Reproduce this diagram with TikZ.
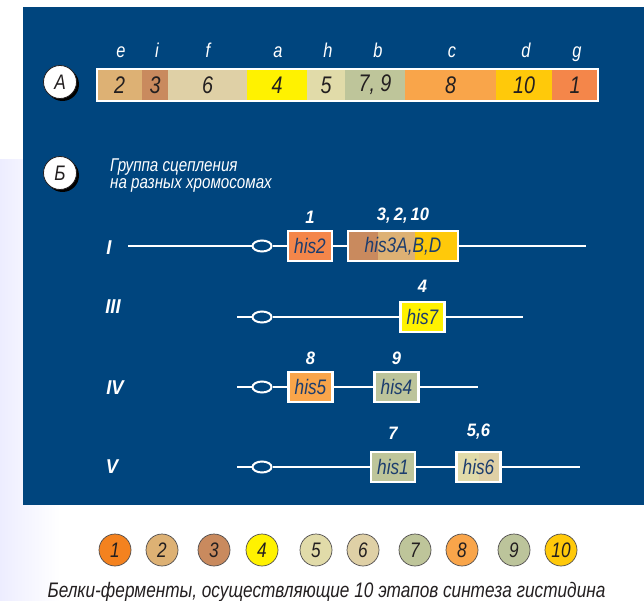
\documentclass[tikz,border=0pt]{standalone}
\usepackage{fontspec}
\setmainfont{Liberation Sans}
\newfontfamily\narrow[FakeStretch=0.82]{Liberation Sans}
\newfontfamily\wider[FakeStretch=0.92]{Liberation Sans}
\usetikzlibrary{shapes.geometric,shadows}

\definecolor{panel}{HTML}{00457E}
\definecolor{ink}{HTML}{231F20}
\definecolor{hisblue}{HTML}{1C3D6E}
\definecolor{enzA}{HTML}{F4864A}
\definecolor{enzAdot}{HTML}{F4821F}
\definecolor{enzB}{HTML}{DDB174}
\definecolor{enzC}{HTML}{C98A5E}
\definecolor{enzD}{HTML}{FFF200}
\definecolor{enzE}{HTML}{E1DBA9}
\definecolor{enzF}{HTML}{DFD0A6}
\definecolor{enzG}{HTML}{BEC59A}
\definecolor{enzH}{HTML}{F9A54A}
\definecolor{enzI}{HTML}{BCC49B}
\definecolor{enzJ}{HTML}{FFC90A}

\begin{document}
\begin{tikzpicture}[
        x=1pt, y=-1pt,
        seg/.style={minimum height=32pt, inner sep=0pt, text=ink,
            font=\narrow\itshape\fontsize{24}{24}\selectfont},
        letter/.style={anchor=base, text=white,
            font=\narrow\itshape\fontsize{20}{20}\selectfont},
        badge/.style={circle, draw=ink, line width=0.8pt, fill=white,
            minimum size=33pt, inner sep=0pt, text=ink,
            drop shadow={shadow xshift=2.5pt, shadow yshift=-2.5pt,
                fill=black, opacity=1},
            font=\narrow\itshape\fontsize{21}{21}\selectfont},
        gene/.style={draw=white, line width=2.4pt, minimum width=44pt,
            minimum height=30pt, inner sep=0pt, text=hisblue,
            font=\narrow\itshape\fontsize{21}{21}\selectfont},
        num/.style={text=white, inner sep=0pt,
            font=\wider\bfseries\itshape\fontsize{18}{18}\selectfont},
        roman/.style={text=white,
            font=\wider\bfseries\itshape\fontsize{20}{20}\selectfont},
        chrom/.style={white, line width=2.2pt},
        centro/.style={ellipse, draw=white, line width=2pt, fill=panel,
            minimum width=19pt, minimum height=11pt, inner sep=0pt},
        enzyme/.style={circle, draw=ink!80, line width=0.7pt,
            minimum size=32pt, inner sep=0pt, text=ink,
            font=\narrow\itshape\fontsize{21}{21}\selectfont},
    ]

    \useasboundingbox (0,0) rectangle (644,601);
    \fill[left color=blue!7!white, right color=white] (0,160) rectangle (60,601);
    \fill[panel] (23,7) rectangle (644,505);

    % A: enzyme bar
    \node[seg, fill=enzB, minimum width=45pt] (seg-e) at (119.5,85) {2};
    \node[seg, fill=enzC, minimum width=26pt] (seg-i) at (155,85) {3};
    \node[seg, fill=enzF, minimum width=79pt] (seg-f) at (207.5,85) {6};
    \node[seg, fill=enzD, minimum width=60pt] (seg-a) at (277,85) {4};
    \node[seg, fill=enzE, minimum width=38pt] (seg-h) at (326,85) {5};
    \node[seg, fill=enzG, minimum width=60pt] (seg-b) at (375,85) {7, 9};
    \node[seg, fill=enzH, minimum width=91pt] (seg-c) at (450.5,85) {8};
    \node[seg, fill=enzJ, minimum width=56pt] (seg-d) at (524,85) {10};
    \node[seg, fill=enzA, minimum width=46pt] (seg-g) at (575,85) {1};
    \node[draw=white, line width=2pt, minimum width=501pt, minimum height=32pt,
        inner sep=0pt] (barA) at (347.5,85) {};

    \node[letter] (lab-e) at (121,58) {e};
    \node[letter] (lab-i) at (157,58) {i};
    \node[letter] (lab-f) at (208,58) {f};
    \node[letter] (lab-a) at (278,58) {a};
    \node[letter] (lab-h) at (328,58) {h};
    \node[letter] (lab-b) at (378,58) {b};
    \node[letter] (lab-c) at (452,58) {c};
    \node[letter] (lab-d) at (526,58) {d};
    \node[letter] (lab-g) at (577,58) {g};

    \node[badge] (badgeA) at (60,82) {А};
    \node[badge] (badgeB) at (60,173) {Б};

    % Б: linkage groups
    \node[anchor=north west, align=left, inner sep=0pt, text=white,
        font=\narrow\itshape\fontsize{18.5}{17}\selectfont]
        (groupnote) at (110,159) {Группа сцепления\\на разных хромосомах};

    \node[roman] (chrI) at (109,248) {I};
    \coordinate (I-start) at (128,246);
    \coordinate (I-end) at (586,246);
    \node[centro] (I-cen) at (262,246) {};
    \node[gene, fill=enzA, label={[num, label distance=6pt]above:1}]
        (his2) at (310,246) {his2};
    \node[gene, minimum width=110pt, label={[num, label distance=6pt]above:3,\,2,\,10},
        path picture={
            \fill[enzC] (path picture bounding box.south west) rectangle
                ([xshift=30pt]path picture bounding box.north west);
            \fill[enzB] ([xshift=30pt]path picture bounding box.south west) rectangle
                ([xshift=67pt]path picture bounding box.north west);
            \fill[enzJ] ([xshift=67pt]path picture bounding box.south west) rectangle
                (path picture bounding box.north east);
        }] (his3) at (403,246) {his3A,B,D};
    \draw[chrom] (I-start) -- (I-cen) -- (his2) -- (his3) -- (I-end);

    \node[roman] (chrIII) at (113,307) {III};
    \coordinate (III-start) at (237,317);
    \coordinate (III-end) at (523,317);
    \node[centro] (III-cen) at (262,317) {};
    \node[gene, fill=enzD, label={[num, label distance=8pt]above:4}]
        (his7) at (422.5,317) {his7};
    \draw[chrom] (III-start) -- (III-cen) -- (his7) -- (III-end);

    \node[roman] (chrIV) at (115,388) {IV};
    \coordinate (IV-start) at (237,387);
    \coordinate (IV-end) at (478,387);
    \node[centro] (IV-cen) at (262,387) {};
    \node[gene, fill=enzH, label={[num, label distance=6pt]above:8}]
        (his5) at (310.5,387) {his5};
    \node[gene, fill=enzI, label={[num, label distance=6pt]above:9}]
        (his4) at (396.5,387) {his4};
    \draw[chrom] (IV-start) -- (IV-cen) -- (his5) -- (his4) -- (IV-end);

    \node[roman] (chrV) at (112,467) {V};
    \coordinate (V-start) at (237,467);
    \coordinate (V-end) at (580,467);
    \node[centro] (V-cen) at (262,467) {};
    \node[gene, fill=enzG, label={[num, label distance=11pt]above:7}]
        (his1) at (393,467) {his1};
    \node[gene, label={[num, label distance=11pt]above:5,6},
        path picture={
            \fill[enzE] (path picture bounding box.south west) rectangle
                ([xshift=22pt]path picture bounding box.north west);
            \fill[enzF] ([xshift=22pt]path picture bounding box.south west) rectangle
                (path picture bounding box.north east);
        }] (his6) at (478.5,467) {his6};
    \draw[chrom] (V-start) -- (V-cen) -- (his1) -- (his6) -- (V-end);

    % legend
    \node[enzyme, fill=enzAdot] (dot1) at (115,550) {1};
    \node[enzyme, fill=enzB] (dot2) at (162,550) {2};
    \node[enzyme, fill=enzC] (dot3) at (214,550) {3};
    \node[enzyme, fill=enzD] (dot4) at (262,550) {4};
    \node[enzyme, fill=enzE] (dot5) at (316,550) {5};
    \node[enzyme, fill=enzF] (dot6) at (363,550) {6};
    \node[enzyme, fill=enzG] (dot7) at (415,550) {7};
    \node[enzyme, fill=enzH] (dot8) at (462,550) {8};
    \node[enzyme, fill=enzI] (dot9) at (514,550) {9};
    \node[enzyme, fill=enzJ] (dot10) at (561,550) {10};

    \node[anchor=base, text=ink, inner sep=0pt,
        font=\narrow\itshape\fontsize{21}{21}\selectfont]
        (caption) at (326.5,597) {Белки-ферменты, осуществляющие 10 этапов синтеза гистидина};

\end{tikzpicture}
\end{document}
